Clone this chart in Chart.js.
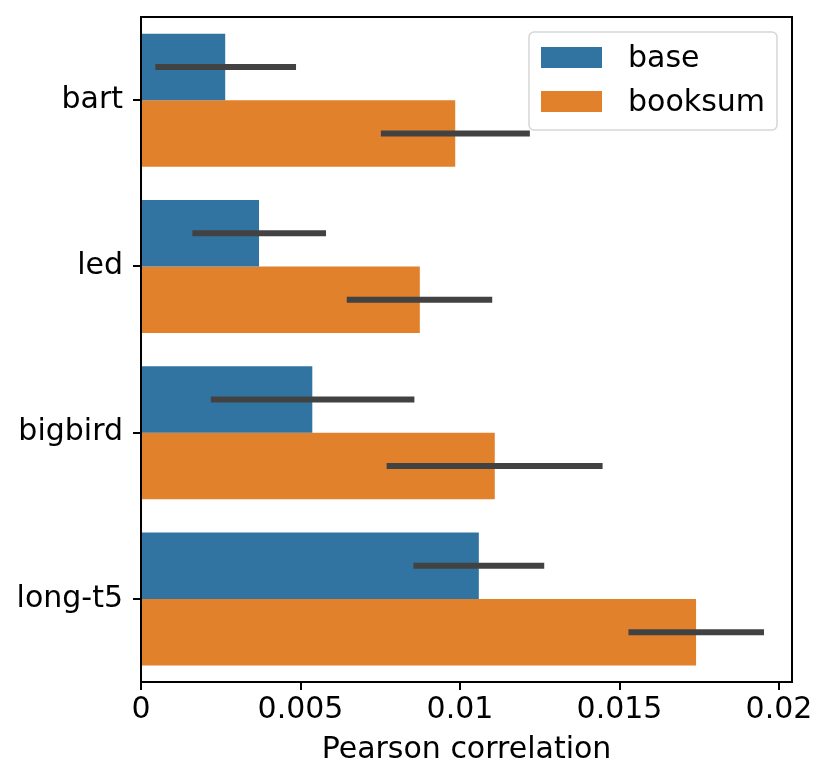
<!DOCTYPE html>
<html>
<head>
<meta charset="utf-8">
<script src="https://cdn.jsdelivr.net/npm/chart.js@4.4.1/dist/chart.umd.min.js"></script>
<style>
html,body{margin:0;padding:0;background:#fff;}
#c{display:block;}
</style>
</head>
<body>
<canvas id="c" width="830" height="784"></canvas>
<script>
const categories = ["bart", "led", "bigbird", "long-t5"];
const seriesNames = ["base", "booksum"];
const baseValues = [0.00264, 0.00370, 0.00537, 0.01059];
const booksumValues = [0.00985, 0.00874, 0.01109, 0.01740];
const baseErrLow = [0.00045, 0.00161, 0.00219, 0.00854];
const baseErrHigh = [0.00486, 0.00580, 0.00857, 0.01264];
const booksumErrLow = [0.00752, 0.00645, 0.00770, 0.01528];
const booksumErrHigh = [0.01219, 0.01101, 0.01447, 0.01953];
const xTickValues = [0, 0.005, 0.01, 0.015, 0.02];
const xTickLabels = ["0", "0.005", "0.01", "0.015", "0.02"];
const xAxisTitle = "Pearson correlation";
const xMin = 0, xMax = 0.020407;

const colors = ["#3274a1", "#e1812c"];
const FONT = "'DejaVu Sans', sans-serif";
const FS = 30;
const errLow = [baseErrLow, booksumErrLow];
const errHigh = [baseErrHigh, booksumErrHigh];

const errorBars = {
  id: "errorBars",
  afterDatasetsDraw(chart) {
    const ctx = chart.ctx;
    const xs = chart.scales.x;
    ctx.save();
    ctx.strokeStyle = "#424242";
    ctx.lineWidth = 6;
    ctx.lineCap = "butt";
    for (let d = 0; d < 2; d++) {
      const meta = chart.getDatasetMeta(d);
      meta.data.forEach((bar, j) => {
        const x1 = xs.getPixelForValue(errLow[d][j]);
        const x2 = xs.getPixelForValue(errHigh[d][j]);
        ctx.beginPath();
        ctx.moveTo(x1, bar.y);
        ctx.lineTo(x2, bar.y);
        ctx.stroke();
      });
    }
    ctx.restore();
  }
};

const frameAndLegend = {
  id: "frameAndLegend",
  afterDraw(chart) {
    const ctx = chart.ctx;
    const a = chart.chartArea;
    ctx.save();
    ctx.strokeStyle = "#000";
    ctx.lineWidth = 2;
    ctx.strokeRect(a.left, a.top, a.right - a.left, a.bottom - a.top);
    // legend
    const lx = 529, ly = 32, lw = 248, lh = 98, r = 5;
    ctx.beginPath();
    ctx.moveTo(lx + r, ly);
    ctx.arcTo(lx + lw, ly, lx + lw, ly + lh, r);
    ctx.arcTo(lx + lw, ly + lh, lx, ly + lh, r);
    ctx.arcTo(lx, ly + lh, lx, ly, r);
    ctx.arcTo(lx, ly, lx + lw, ly, r);
    ctx.closePath();
    ctx.fillStyle = "rgba(255,255,255,0.8)";
    ctx.fill();
    ctx.strokeStyle = "#d6d6d6";
    ctx.lineWidth = 1.5;
    ctx.stroke();
    ctx.font = FS + "px " + FONT;
    ctx.textBaseline = "middle";
    ctx.textAlign = "left";
    seriesNames.forEach((name, i) => {
      const sy = 47 + i * 44;
      ctx.fillStyle = colors[i];
      ctx.fillRect(541, sy, 61, 21);
      ctx.fillStyle = "#000";
      ctx.fillText(name, 628, sy + 12);
    });
    ctx.restore();
  }
};

new Chart(document.getElementById("c"), {
  type: "bar",
  data: {
    labels: categories,
    datasets: [
      { label: seriesNames[0], data: baseValues, backgroundColor: colors[0], borderWidth: 0 },
      { label: seriesNames[1], data: booksumValues, backgroundColor: colors[1], borderWidth: 0 }
    ]
  },
  options: {
    indexAxis: "y",
    responsive: false,
    animation: false,
    devicePixelRatio: 1,
    categoryPercentage: 0.8,
    barPercentage: 1.0,
    layout: { padding: { top: 17, right: 38, left: 0, bottom: 0 } },
    plugins: { legend: { display: false }, tooltip: { enabled: false } },
    scales: {
      x: {
        type: "linear",
        min: xMin,
        max: xMax,
        afterBuildTicks(scale) { scale.ticks = xTickValues.map(v => ({ value: v })); },
        afterFit(scale) { scale.height = 102; scale.paddingLeft = 0; scale.paddingRight = 0; },
        ticks: {
          color: "#000",
          font: { family: FONT, size: FS },
          padding: 2,
          maxRotation: 0,
          autoSkip: false,
          callback(value) { const i = xTickValues.indexOf(value); return i >= 0 ? xTickLabels[i] : ""; }
        },
        grid: { drawOnChartArea: false, drawTicks: true, tickLength: 8, color: "#000", lineWidth: 2 },
        border: { display: true, color: "#000", width: 2 },
        title: { display: true, text: xAxisTitle, color: "#000", font: { family: FONT, size: FS }, padding: { top: 0, bottom: 16 } }
      },
      y: {
        type: "category",
        offset: true,
        afterFit(scale) { scale.width = 141; scale.paddingTop = 0; scale.paddingBottom = 0; },
        ticks: { color: "#000", font: { family: FONT, size: FS }, padding: 10 },
        grid: { offset: false, drawOnChartArea: false, drawTicks: true, tickLength: 8, color: "#000", lineWidth: 2 },
        border: { display: true, color: "#000", width: 2 }
      }
    }
  },
  plugins: [errorBars, frameAndLegend]
});
</script>
</body>
</html>
